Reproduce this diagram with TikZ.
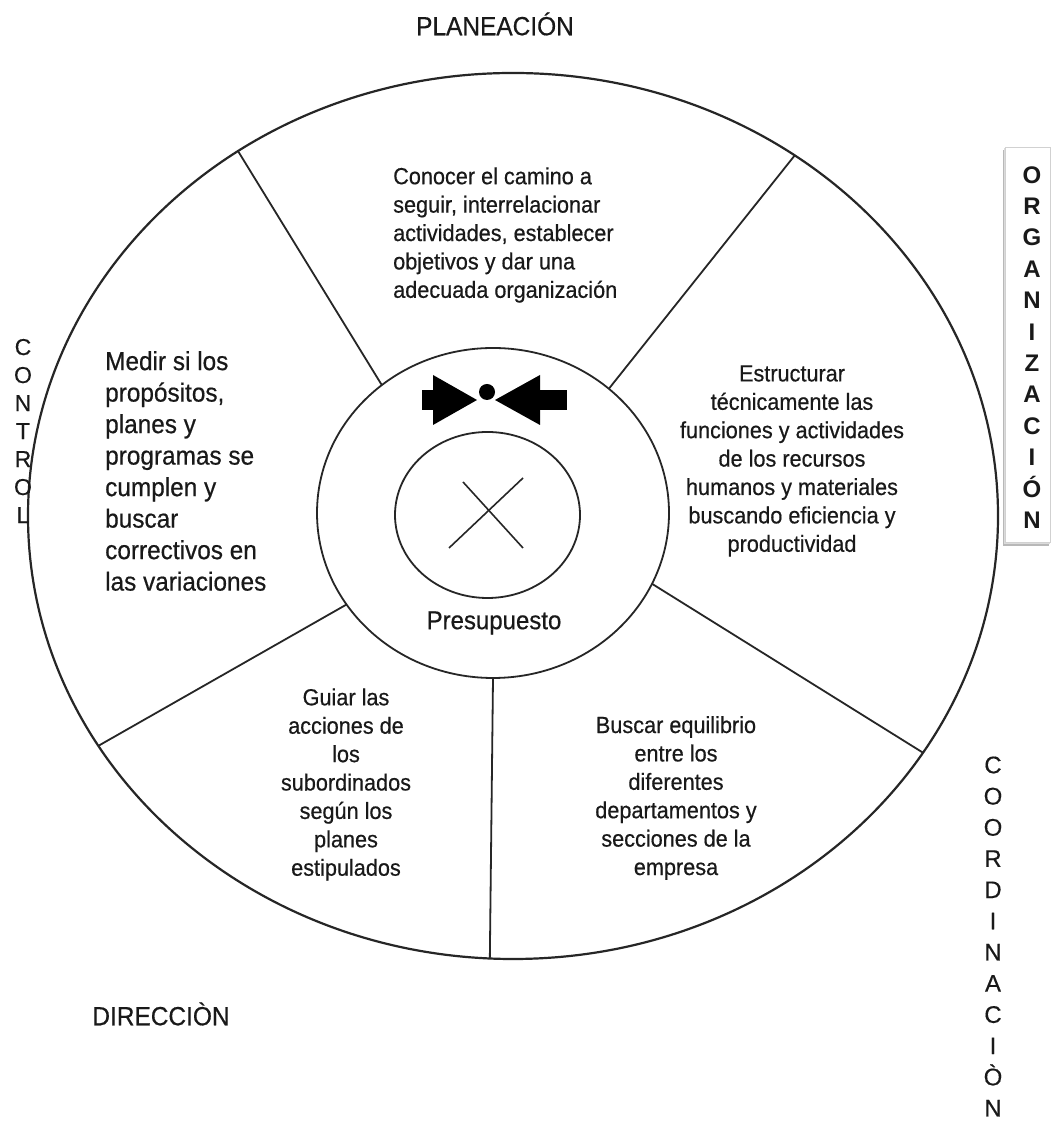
\documentclass[tikz,border=0pt]{standalone}
\usepackage{fontspec}
\setmainfont{Liberation Sans}
\newfontfamily\narrowsans[FakeStretch=0.93,FakeBold=0.5]{Liberation Sans}
\newfontfamily\plainsans[FakeBold=0.4]{Liberation Sans}
\usetikzlibrary{shapes.geometric}
\begin{document}
\begin{tikzpicture}[x=1pt,y=1pt,
  ring/.style={ellipse, draw=black!85, line width=2.2pt, inner sep=0pt, outer sep=0pt},
  spoke/.style={draw=black!85, line width=1.8pt},
  body/.style={font=\narrowsans\fontsize{23.3}{28.4}\selectfont, inner sep=0pt, text=black!90},
  bigbody/.style={font=\narrowsans\fontsize{26.2}{31.5}\selectfont, inner sep=0pt, text=black!90},
  title/.style={font=\narrowsans\fontsize{26.3}{30}\selectfont, inner sep=0pt, text=black!90},
  stack/.style={align=center, inner sep=0pt, text=black!90}]
\useasboundingbox (0,0) rectangle (1053,1123);
\fill[white] (0,0) rectangle (1053,1123);

% rings
\node[ring, minimum width=970pt, minimum height=886pt] (outer) at (513,607) {};
\node[ring, line width=1.8pt, minimum width=352pt, minimum height=330pt] (mid) at (493,610) {};
\node[ring, line width=1.8pt, minimum width=185pt, minimum height=166pt] (inner) at (487.5,608) {};

% spokes between the middle ring and the outer ring
\draw[spoke] (mid.131.5) -- (outer.127);
\draw[spoke] (mid.47.4) -- (outer.52.6);
\draw[spoke] (mid.212.3) -- (outer.209.7);
\draw[spoke] (mid.336.3) -- (outer.330.5);
\draw[spoke] (mid.270) -- (outer.267.2);

% cross in the inner ring
\coordinate (xa) at (463,641);
\coordinate (xb) at (523,575);
\coordinate (xc) at (523,645);
\coordinate (xd) at (449,575);
\draw[spoke, line width=1.6pt] (xa) -- (xb);
\draw[spoke, line width=1.6pt] (xc) -- (xd);

% valve symbol
\fill[black] (422,733) rectangle (440,713);
\fill[black] (433,748) -- (477,723) -- (433,698) -- cycle;
\fill[black] (567,733) rectangle (537,713);
\fill[black] (540,748) -- (495,723) -- (540,698) -- cycle;
\fill[black] (487,731) circle (8);

% sector texts
\node[body, anchor=west, align=left] (plan) at (393,888)
  {Conocer el camino a\\seguir, interrelacionar\\actividades, establecer\\objetivos y dar una\\adecuada organización};
\node[body, align=center] (org) at (792,662)
  {Estructurar\\técnicamente las\\funciones y actividades\\de los recursos\\humanos y materiales\\buscando eficiencia y\\productividad};
\node[bigbody, anchor=west, align=left] (ctrl) at (105,652)
  {Medir si los\\propósitos,\\planes y\\programas se\\cumplen y\\buscar\\correctivos en\\las variaciones};
\node[body, align=center] (dir) at (346,338.5)
  {Guiar las\\acciones de\\los\\subordinados\\según los\\planes\\estipulados};
\node[body, align=center] (coord) at (676,325)
  {Buscar equilibrio\\entre los\\diferentes\\departamentos y\\secciones de la\\empresa};
\node[title, font=\narrowsans\fontsize{25.8}{30}\selectfont] (presu) at (494,500) {Presupuesto};

% outside labels
\node[title] (tplan) at (495,1099) {PLANEACIÓN};
\node[title] (tdir) at (161,109) {DIRECCIÒN};
\node[stack, font=\plainsans\fontsize{23}{28}\selectfont] (tctrl) at (23,692)
  {C\\O\\N\\T\\R\\O\\L};
\node[stack, font=\plainsans\fontsize{24}{31.2}\selectfont] (tcoord) at (993,186.5)
  {C\\O\\O\\R\\D\\I\\N\\A\\C\\I\\Ò\\N};

% boxed label with a soft shadow below and to the left
\fill[black!28] (1003,973) rectangle (1049,577);
\fill[black!14] (1004,974.5) rectangle (1050,578.5);
\node[draw=black!18, fill=white, line width=0.6pt, minimum width=45pt, minimum height=395pt, inner sep=0pt] (obox) at (1027.5,778.5) {};
\node[stack, font=\bfseries\fontsize{24}{31.4}\selectfont] (torg) at (1032,775.5)
  {O\\R\\G\\A\\N\\I\\Z\\A\\C\\I\\Ó\\N};
\end{tikzpicture}
\end{document}
